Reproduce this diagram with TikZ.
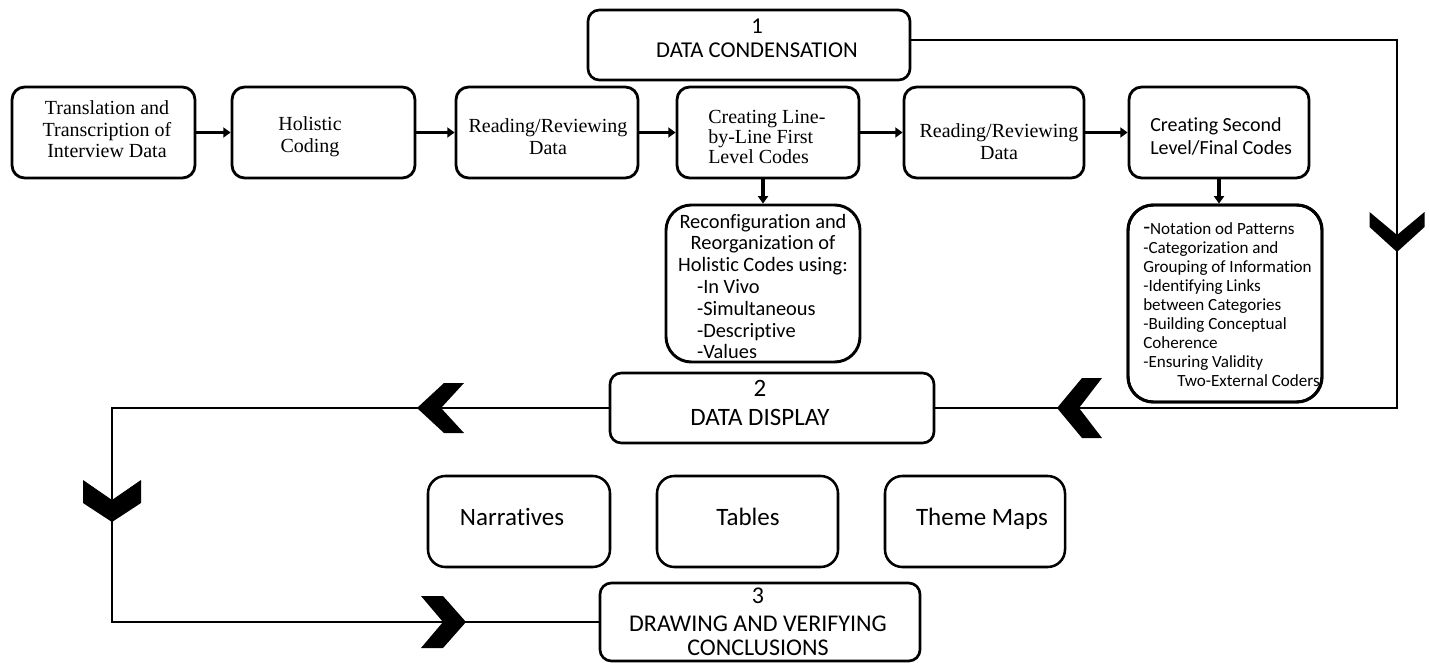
\documentclass[tikz,border=0pt]{standalone}
\usepackage{fontspec}
\setmainfont{Liberation Serif}
\newfontfamily\calib[Ligatures=NoCommon]{Carlito}
\usetikzlibrary{fit,arrows.meta}
% a block of lines whose first baseline is the node's base line
\newcommand\block[2]{\begin{tabular}[t]{@{}#1@{}}#2\end{tabular}}
\begin{document}
\begin{tikzpicture}[x=0.75pt,y=-0.75pt,
  every node/.style={inner sep=0pt},
  stage/.style={draw, line width=2.1pt, rounded corners=9.5pt},
  note/.style={draw, line width=2.2pt, rounded corners=19pt},
  phase/.style={draw, line width=2pt, rounded corners=8.5pt},
  shows/.style={draw, line width=1.9pt, rounded corners=13pt},
  label/.style={anchor=base},
  serif/.style={font=\fontsize{15pt}{16.1pt}\selectfont},
  sans/.style={font=\calib\fontsize{#1}{#1}\selectfont},
  flow/.style={line width=2.3pt, -{Triangle[length=5.5pt,width=7.5pt]}},
  loop/.style={line width=1.5pt},
  chevron/.style={fill=black}
]
\useasboundingbox (0,0) rectangle (1430,663);

% ---------- boxes ----------
\node[phase, fit={(588,10) (910,80)}] (cond) {};
\node[stage, fit={(12,87) (195,178)}] (trans) {};
\node[stage, fit={(232,87) (415,178)}] (holis) {};
\node[stage, fit={(456,87) (638,178)}] (read1) {};
\node[stage, fit={(677,87) (859,178)}] (first) {};
\node[stage, fit={(904,87) (1084,178)}] (read2) {};
\node[stage, fit={(1129,87) (1309,178)}] (second) {};
\node[note, fit={(666,205) (860,362)}] (reconf) {};
\node[phase, fit={(610,373) (934,443)}] (disp) {};
\node[shows, fit={(428,476) (610,567)}] (narr) {};
\node[shows, fit={(657,476) (838,567)}] (tabl) {};
\node[shows, fit={(885,476) (1065,567)}] (maps) {};
\node[phase, fit={(600,583) (920,661)}] (concl) {};

% ---------- texts ----------
\node[label, sans=17pt] (cond-t) at (757,34)
  {\block{c}{1\\[0.75pt]DATA CONDENSATION}};

\node[label, serif] (trans-t) at (107,115)
  {\block{c}{Translation and\\Transcription of\\Interview Data}};
\node[label, serif] (holis-t) at (310,131) {\block{c}{Holistic\\Coding}};
\node[label, serif] (read1-t) at (548,133) {\block{c}{Reading/Reviewing\\Data}};
\node[label, serif, anchor=base west, font=\fontsize{15pt}{15pt}\selectfont]
  (first-t) at (708,124) {\block{l}{Creating Line-\\by-Line First\\Level Codes}};
\node[label, serif] (read2-t) at (999,138) {\block{c}{Reading/Reviewing\\Data}};
\node[label, anchor=base west, font=\calib\fontsize{15pt}{17pt}\selectfont]
  (second-t) at (1150,132) {\block{l}{Creating Second\\Level/Final Codes}};

\node[label, font=\calib\fontsize{15.3pt}{16.35pt}\selectfont] (reconf-t) at (763,228)
  {\block{c}{Reconfiguration and\\Reorganization of\\Holistic Codes using:\\
   \makebox[99pt][l]{-In Vivo}\\\makebox[99pt][l]{-Simultaneous}\\
   \makebox[99pt][l]{-Descriptive}\\\makebox[99pt][l]{-Values}}};

\node[label, sans=18.75pt] (disp-t) at (760,396)
  {\block{c}{2\\[3pt]DATA DISPLAY}};
\node[label, sans=18.75pt] (narr-t) at (512,525) {Narratives};
\node[label, sans=18.75pt] (tabl-t) at (748,525) {Tables};
\node[label, sans=18.75pt] (maps-t) at (982,525) {Theme Maps};
\node[label, sans=18pt] (concl-t) at (758,603)
  {\block{c}{3\\[3pt]DRAWING AND VERIFYING\\CONCLUSIONS}};

% notes box with its list, clipped to the inside of the frame
\node[note, fit={(1128,205) (1322,402)}] (patterns) {};
\begin{scope}
  \clip (1130,207) rectangle (1320,400);
  \node[anchor=base west, font=\calib\fontsize{12.8pt}{14.25pt}\selectfont]
    (patterns-t) at (1143,234)
    {\block{l}{{\fontsize{17pt}{14.25pt}\selectfont -}Notation od Patterns\\
     -Categorization and\\Grouping of Information\\
     -Identifying Links\\between Categories\\
     -Building Conceptual\\Coherence\\
     -Ensuring Validity\\\hspace*{25.5pt}Two-External Coders}};
\end{scope}
\draw[line width=2.2pt, rounded corners=19pt] (1128,205) rectangle (1322,402);

% ---------- flow ----------
\draw[flow] (trans) -- (holis);
\draw[flow] (holis) -- (read1);
\draw[flow] (read1) -- (first);
\draw[flow] (first) -- (read2);
\draw[flow] (read2) -- (second);
\draw[flow] (reconf.north |- first.south) -- (reconf.north);
\draw[flow] (second.south) -- (second.south |- patterns.north);

% ---------- feedback loops ----------
\coordinate (ne) at (1397,40);
\coordinate (nw) at (112,408);
\draw[loop] (cond.east |- ne) -- (ne) |- (disp.east);
\draw[loop] (disp.west) -- (nw) |- (concl.west);

\fill[chevron] (1397,252) -- ++(27.5,-25) -- ++(0,-15) -- ++(-27.5,23)
  -- ++(-27.5,-23) -- ++(0,15) -- cycle;
\fill[chevron] (1057,408) -- ++(25,-30) -- ++(20,0) -- ++(-23,30)
  -- ++(23,30) -- ++(-20,0) -- cycle;
\fill[chevron] (417,408) -- ++(27,-25) -- ++(20,0) -- ++(-23,25)
  -- ++(23,25) -- ++(-20,0) -- cycle;
\fill[chevron] (112,522) -- ++(29,-19) -- ++(0,-23) -- ++(-29,20)
  -- ++(-29,-20) -- ++(0,23) -- cycle;
\fill[chevron] (466,622) -- ++(-23,-26) -- ++(-22,0) -- ++(22,26)
  -- ++(-22,26) -- ++(22,0) -- cycle;
\end{tikzpicture}
\end{document}
